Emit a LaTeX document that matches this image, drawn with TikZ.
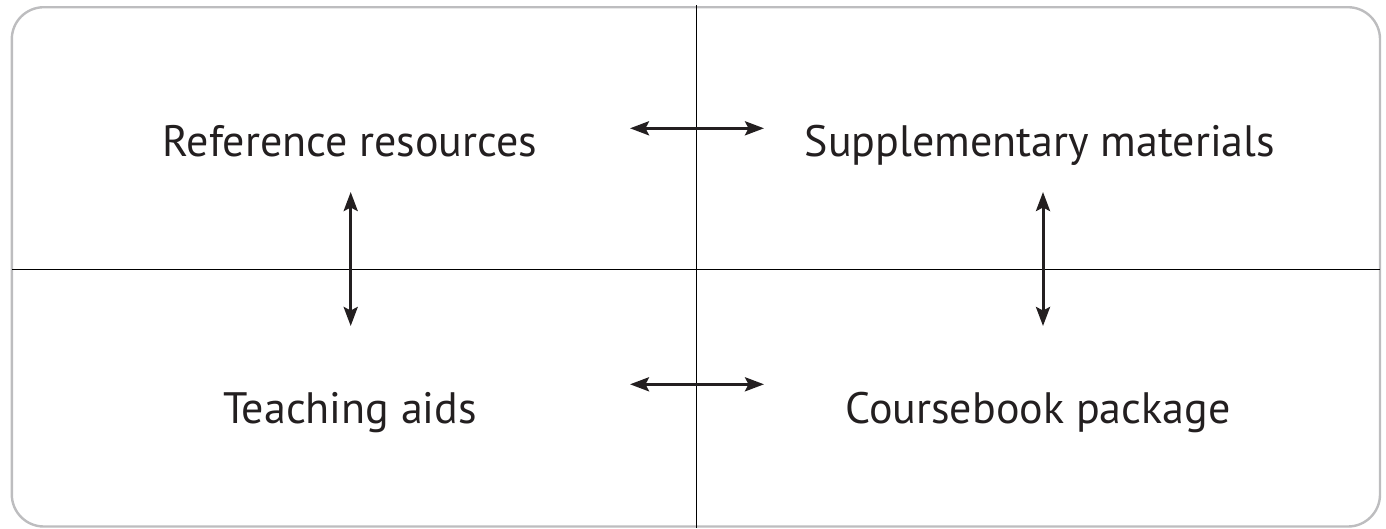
\documentclass[tikz,border=0pt]{standalone}
\usepackage{fontspec}
\setmainfont{PT Sans}
\usetikzlibrary{arrows.meta}
\definecolor{frame}{HTML}{BDBDBF}
\definecolor{ink}{HTML}{231F20}
\begin{document}
\begin{tikzpicture}[
            x=1pt,
            y=-1pt,
            label/.style={text=ink, inner sep=0pt, anchor=base, font=\fontsize{44}{50}\selectfont},
            link/.style={draw=ink, line width=3pt, {Stealth[length=19pt, width=14pt, inset=3.5pt]}-{Stealth[length=19pt, width=14pt, inset=3.5pt]}},
            axis/.style={draw=black, line width=1.3pt}
        ]
        \useasboundingbox (0,0) rectangle (1386,528);
        \coordinate (T) at (696.5,5);
        \coordinate (B) at (696.5,528);
        \coordinate (L) at (12,269.3);
        \coordinate (R) at (1380,269.3);
        \coordinate (H1) at (630,128.3);
        \coordinate (H2) at (764,128.3);
        \coordinate (H3) at (630,384.3);
        \coordinate (H4) at (764,384.3);
        \coordinate (V1) at (350.7,192);
        \coordinate (V2) at (350.7,326);
        \coordinate (V3) at (1043,192);
        \coordinate (V4) at (1043,326);

        \draw[frame, line width=2.4pt, rounded corners=32pt] (11.8,7.2) rectangle (1380,526.5);
        \draw[axis] (T) -- (B);
        \draw[axis] (L) -- (R);
        \node[label] (ref) at (350,156) {Reference resources};
        \node[label] (sup) at (1040,156) {Supplementary materials};
        \node[label] (aid) at (350,423) {Teaching aids};
        \node[label] (book) at (1038,423) {Coursebook package};
        \draw[link] (H1) -- (H2);
        \draw[link] (H3) -- (H4);
        \draw[link] (V1) -- (V2);
        \draw[link] (V3) -- (V4);
    \end{tikzpicture}
\end{document}
